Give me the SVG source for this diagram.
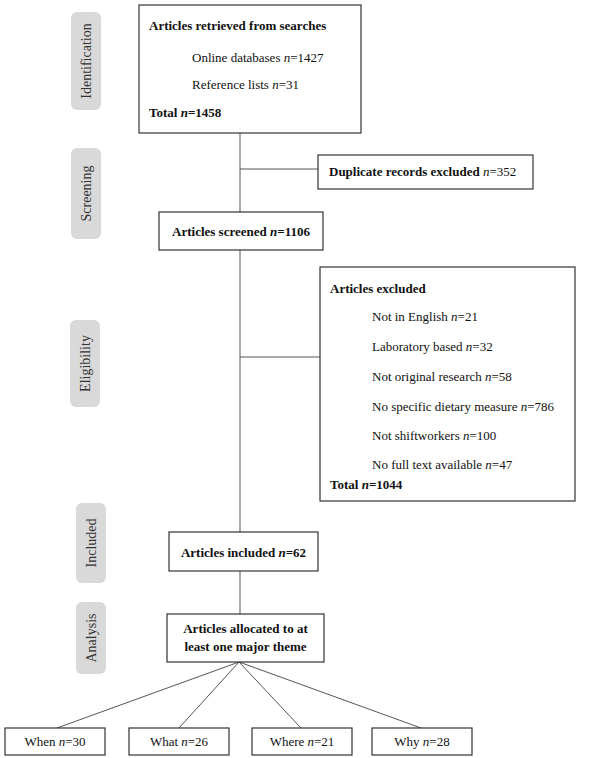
<svg xmlns="http://www.w3.org/2000/svg" width="600" height="758" viewBox="0 0 600 758">
<style>
text{font-family:"Liberation Serif","Times New Roman",serif;font-size:13px;fill:#111}
.b{font-weight:bold}
.c{text-anchor:middle}
.i{font-style:italic}
.box{fill:#fff;stroke:#333;stroke-width:1.2}
.pill{fill:#d9d9d9;stroke:none}
.pt{fill:#333;font-size:14px;text-anchor:middle}
.ln{stroke:#555;stroke-width:1;fill:none}
</style>
<rect width="600" height="758" fill="#fff"/>
<g id="connectors">
<line class="ln" x1="240" y1="133" x2="240" y2="212"/>
<line class="ln" x1="240" y1="169" x2="318" y2="169"/>
<line class="ln" x1="240" y1="250" x2="240" y2="532"/>
<line class="ln" x1="240" y1="357" x2="320" y2="357"/>
<line class="ln" x1="240" y1="571" x2="240" y2="614"/>
<line class="ln" x1="239" y1="662" x2="57" y2="728"/>
<line class="ln" x1="239" y1="662" x2="179" y2="728"/>
<line class="ln" x1="239" y1="662" x2="301" y2="728"/>
<line class="ln" x1="239" y1="662" x2="421" y2="728"/>
</g>
<g id="stage-identification">
<rect class="pill" x="71" y="12" width="30" height="98" rx="6"/>
<text class="pt" transform="translate(91,61) rotate(-90)">Identification</text>
</g>
<g id="stage-screening">
<rect class="pill" x="71" y="148" width="30" height="91" rx="6"/>
<text class="pt" transform="translate(91,193.5) rotate(-90)">Screening</text>
</g>
<g id="stage-eligibility">
<rect class="pill" x="70" y="320" width="30" height="87" rx="6"/>
<text class="pt" transform="translate(90,363.5) rotate(-90)">Eligibility</text>
</g>
<g id="stage-included">
<rect class="pill" x="76" y="503" width="30" height="80" rx="6"/>
<text class="pt" transform="translate(96,543) rotate(-90)">Included</text>
</g>
<g id="stage-analysis">
<rect class="pill" x="76" y="602" width="30" height="72" rx="6"/>
<text class="pt" transform="translate(96,638) rotate(-90)">Analysis</text>
</g>
<g id="node-retrieved">
<rect class="box" x="139" y="5" width="222" height="128"/>
<text class="b" x="149" y="30">Articles retrieved from searches</text>
<text x="192" y="62">Online databases <tspan class="i">n</tspan>=1427</text>
<text x="192" y="89">Reference lists <tspan class="i">n</tspan>=31</text>
<text class="b" x="149" y="117">Total <tspan class="i">n</tspan>=1458</text>
</g>
<g id="node-duplicates">
<rect class="box" x="318" y="155" width="215" height="34"/>
<text x="329" y="176"><tspan class="b">Duplicate records excluded </tspan><tspan class="i">n</tspan>=352</text>
</g>
<g id="node-screened">
<rect class="box" x="159" y="212" width="164" height="38"/>
<text class="b c" x="241" y="236">Articles screened <tspan class="i">n</tspan>=1106</text>
</g>
<g id="node-excluded">
<rect class="box" x="320" y="267" width="255" height="234"/>
<text class="b" x="330" y="293">Articles excluded</text>
<text x="372" y="321">Not in English <tspan class="i">n</tspan>=21</text>
<text x="372" y="351">Laboratory based <tspan class="i">n</tspan>=32</text>
<text x="372" y="381">Not original research <tspan class="i">n</tspan>=58</text>
<text x="372" y="411">No specific dietary measure <tspan class="i">n</tspan>=786</text>
<text x="372" y="440">Not shiftworkers <tspan class="i">n</tspan>=100</text>
<text x="372" y="469">No full text available <tspan class="i">n</tspan>=47</text>
<text class="b" x="330" y="489">Total <tspan class="i">n</tspan>=1044</text>
</g>
<g id="node-included">
<rect class="box" x="169" y="532" width="149" height="39"/>
<text class="b c" x="243.5" y="557">Articles included <tspan class="i">n</tspan>=62</text>
</g>
<g id="node-allocated">
<rect class="box" x="167" y="614" width="157" height="48"/>
<text class="b c" x="245.5" y="633">Articles allocated to at</text>
<text class="b c" x="245.5" y="651">least one major theme</text>
</g>
<g id="node-when">
<rect class="box" x="5" y="728" width="100" height="27"/>
<text class="c" x="55" y="746">When <tspan class="i">n</tspan>=30</text>
</g>
<g id="node-what">
<rect class="box" x="129" y="728" width="100" height="27"/>
<text class="c" x="179" y="746">What <tspan class="i">n</tspan>=26</text>
</g>
<g id="node-where">
<rect class="box" x="252" y="728" width="100" height="27"/>
<text class="c" x="302" y="746">Where <tspan class="i">n</tspan>=21</text>
</g>
<g id="node-why">
<rect class="box" x="372" y="728" width="100" height="27"/>
<text class="c" x="422" y="746">Why <tspan class="i">n</tspan>=28</text>
</g>
</svg>
